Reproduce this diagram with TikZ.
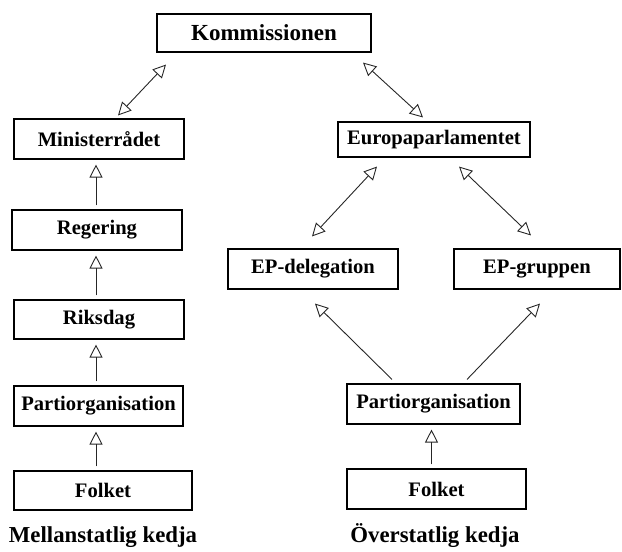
\documentclass[tikz,border=0pt]{standalone}
\usepackage{fontspec}
\setmainfont{Liberation Serif}
\usetikzlibrary{arrows.meta}
\begin{document}
\begin{tikzpicture}[x=1pt,y=-1pt,
  box/.style={draw=black,line width=1.1pt,inner sep=0pt,font=\fontsize{20.6}{24}\selectfont\bfseries},
  captext/.style={inner sep=0pt,font=\fontsize{22.8}{26}\selectfont\bfseries},
  up/.style={draw=black!85,line width=0.9pt,-{Triangle[open,length=13pt,width=13pt,line width=0.9pt]},shorten <=4pt,shorten >=5pt},
  dbl/.style={draw=black!85,line width=0.9pt,{Triangle[open,length=13pt,width=13pt,line width=0.9pt]}-{Triangle[open,length=13pt,width=13pt,line width=0.9pt]}},
  one/.style={draw=black!85,line width=0.9pt,-{Triangle[open,length=13pt,width=13pt,line width=0.9pt]}}]
\useasboundingbox (0,0) rectangle (622,552);
% boxes
\node[box,minimum width=214pt,minimum height=38pt,font=\fontsize{23}{26}\selectfont\bfseries] (komm) at (264,33) {Kommissionen};
\node[box,minimum width=170pt,minimum height=40pt] (minr) at (99,139) {Ministerrådet};
\node[box,minimum width=170pt,minimum height=40pt] (reg) at (97,230) {Regering};
\node[box,minimum width=170pt,minimum height=39pt] (riks) at (99,319.5) {Riksdag};
\node[box,minimum width=169pt,minimum height=40pt] (parL) at (98.5,406) {Partiorganisation};
\node[box,minimum width=178pt,minimum height=39pt] (folkL) at (103,490.5) {Folket};
\node[box,minimum width=192pt,minimum height=35pt] (ep) at (434,139.5) {Europaparlamentet};
\node[box,minimum width=170pt,minimum height=40pt] (epd) at (313,269) {EP-delegation};
\node[box,minimum width=166pt,minimum height=40pt] (epg) at (537,269) {EP-gruppen};
\node[box,minimum width=173pt,minimum height=40pt] (parR) at (433.5,404) {Partiorganisation};
\node[box,minimum width=179pt,minimum height=40pt] (folkR) at (436.5,489) {Folket};
\node[captext] (capL) at (103,537) {Mellanstatlig kedja};
\node[captext] (capR) at (435,536) {Överstatlig kedja};
% left chain
\draw[up] ([xshift=-1pt]reg.north) -- ([xshift=-1pt]reg.north |- minr.south);
\draw[up] ([xshift=-3pt]riks.north) -- ([xshift=-3pt]riks.north |- reg.south);
\draw[up] ([xshift=-2.5pt]parL.north) -- ([xshift=-2.5pt]parL.north |- riks.south);
\draw[up] ([xshift=-7pt]folkL.north) -- ([xshift=-7pt]folkL.north |- parL.south);
% right chain
\draw[up] ([xshift=-5pt]folkR.north) -- ([xshift=-5pt]folkR.north |- parR.south);
% double arrows
\draw[dbl] ([xshift=-98pt,yshift=-12pt]komm.south) -- ([xshift=19pt,yshift=3pt]minr.north);
\draw[dbl] ([xshift=99pt,yshift=-10pt]komm.south) -- ([xshift=-11pt,yshift=4pt]ep.north);
\draw[dbl] ([xshift=-57pt,yshift=-9pt]ep.south) -- ([xshift=-1pt,yshift=12pt]epd.north);
\draw[dbl] ([xshift=25pt,yshift=-9pt]ep.south) -- ([xshift=-6pt,yshift=13pt]epg.north);
% partiorganisation to EP
\draw[one] ([xshift=-41.5pt,yshift=4pt]parR.north) -- ([xshift=2pt,yshift=-14pt]epd.south);
\draw[one] ([xshift=33.5pt,yshift=4pt]parR.north) -- ([xshift=3pt,yshift=-14pt]epg.south);
\end{tikzpicture}
\end{document}
